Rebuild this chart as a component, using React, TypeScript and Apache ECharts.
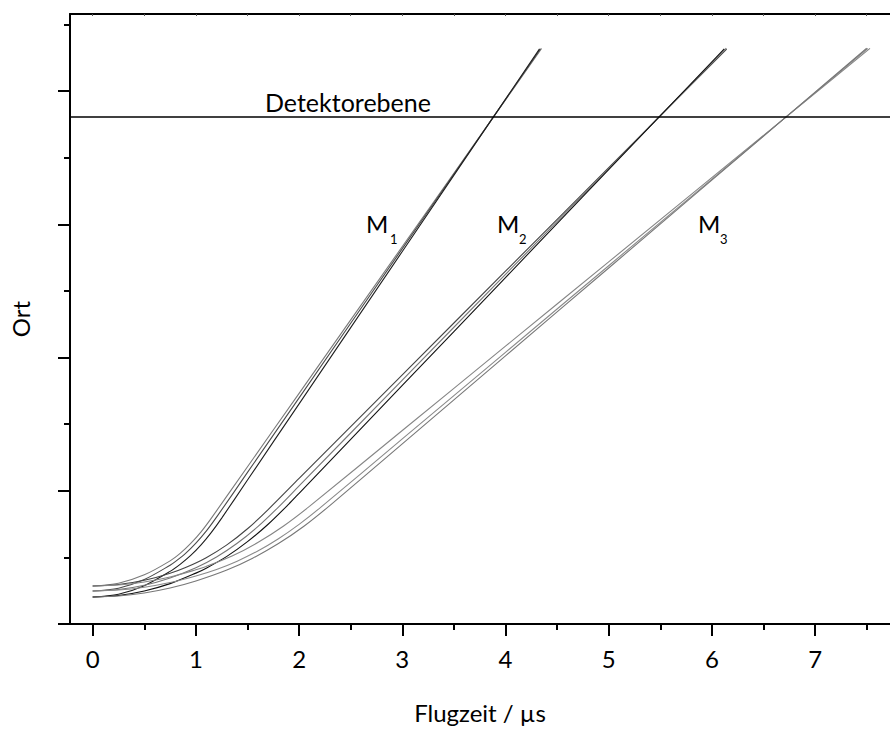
import React, { useEffect, useRef } from "react";
import * as echarts from "echarts";

const xTickValues = [0, 1, 2, 3, 4, 5, 6, 7];
const xMinorTickValues = [0.5, 1.5, 2.5, 3.5, 4.5, 5.5, 6.5, 7.5];
const xTopTickValues = [0, 0.5, 1, 1.5, 2, 2.5, 3, 3.5, 4, 4.5, 5, 5.5, 6, 6.5, 7, 7.5];
const yTickValues = [0, 1, 2, 3, 4];
const yMinorTickValues = [0.5, 1.5, 2.5, 3.5, 4.5];
const detectorLevel = 3.81;

const m1a = [[0, 0.285], [0.25, 0.306], [0.5, 0.369], [0.75, 0.474], [0.85, 0.532], [0.95, 0.605], [1.05, 0.692], [1.15, 0.795], [1.5, 1.181], [2, 1.732], [3, 2.834], [3.877, 3.8], [4.35, 4.321]];
const m1b = [[0, 0.248], [0.25, 0.269], [0.5, 0.334], [0.75, 0.441], [0.8, 0.468], [0.9, 0.53], [1.0, 0.607], [1.1, 0.697], [1.2, 0.802], [1.5, 1.138], [2, 1.698], [3, 2.818], [3.877, 3.8], [4.34, 4.319]];
const m1c = [[0, 0.203], [0.25, 0.224], [0.5, 0.288], [0.75, 0.395], [0.85, 0.45], [0.95, 0.515], [1.05, 0.594], [1.15, 0.688], [1.25, 0.795], [1.5, 1.081], [2, 1.653], [3, 2.797], [3.877, 3.8], [4.33, 4.318]];

const m2a = [[0, 0.285], [0.25, 0.296], [0.5, 0.328], [0.75, 0.381], [0.9, 0.424], [1.1, 0.498], [1.3, 0.594], [1.5, 0.715], [1.7, 0.859], [2, 1.093], [3, 1.871], [4, 2.649], [5.48, 3.8], [6.143, 4.316]];
const m2b = [[0, 0.248], [0.25, 0.259], [0.5, 0.291], [0.75, 0.346], [1.0, 0.422], [1.2, 0.503], [1.4, 0.606], [1.6, 0.731], [1.8, 0.878], [2, 1.037], [3, 1.831], [4, 2.625], [5.48, 3.8], [6.14, 4.324]];
const m2c = [[0, 0.203], [0.25, 0.214], [0.5, 0.248], [0.75, 0.303], [1.0, 0.382], [1.1, 0.419], [1.3, 0.508], [1.5, 0.618], [1.7, 0.749], [1.9, 0.9], [2, 0.981], [3, 1.791], [4, 2.601], [5.48, 3.8], [6.12, 4.318]];

const m3a = [[0, 0.285], [0.25, 0.293], [0.5, 0.315], [0.75, 0.353], [1.0, 0.407], [1.1, 0.432], [1.35, 0.51], [1.6, 0.612], [1.85, 0.736], [2.1, 0.883], [3, 1.453], [4, 2.086], [5, 2.719], [6.708, 3.8], [7.532, 4.322]];
const m3b = [[0, 0.248], [0.25, 0.255], [0.5, 0.276], [0.75, 0.311], [1.0, 0.361], [1.2, 0.41], [1.4, 0.472], [1.6, 0.548], [1.8, 0.64], [2.0, 0.748], [2.2, 0.87], [3, 1.39], [4, 2.04], [5, 2.69], [6.708, 3.8], [7.51, 4.321]];
const m3c = [[0, 0.203], [0.25, 0.21], [0.5, 0.233], [0.75, 0.27], [1.0, 0.323], [1.3, 0.405], [1.55, 0.494], [1.8, 0.604], [2.05, 0.736], [2.3, 0.891], [3, 1.353], [4, 2.013], [5, 2.673], [6.708, 3.8], [7.5, 4.323]];

const curves = [
  { name: "M1a", data: m1a, color: "#7a7a7a" },
  { name: "M1b", data: m1b, color: "#4a4a4a" },
  { name: "M1c", data: m1c, color: "#1e1e1e" },
  { name: "M2a", data: m2a, color: "#444444" },
  { name: "M2b", data: m2b, color: "#777777" },
  { name: "M2c", data: m2c, color: "#111111" },
  { name: "M3a", data: m3a, color: "#858585" },
  { name: "M3b", data: m3b, color: "#8a8a8a" },
  { name: "M3c", data: m3c, color: "#777777" },
];

const FONT = "Lato, 'Open Sans', sans-serif";

export default function App() {
  const ref = useRef<HTMLDivElement>(null);
  useEffect(() => {
    if (!ref.current) return;
    const chart = echarts.init(ref.current, null, { renderer: "svg" });
    const xMin = -0.22;
    const xMax = 7.726;
    const yMin = 0;
    const yMax = 4.58;
    const baseX = { type: "value", min: xMin, max: xMax, splitLine: { show: false } };
    const baseY = { type: "value", min: yMin, max: yMax, splitLine: { show: false } };
    const series: any[] = curves.map((c, i) => ({
      name: c.name,
      type: "line",
      data: c.data,
      smooth: 0.3,
      showSymbol: false,
      symbol: "none",
      lineStyle: { color: c.color, width: 1.1 },
      silent: true,
      z: 2,
      markLine:
        i === 0
          ? {
              silent: true,
              symbol: "none",
              label: { show: false },
              lineStyle: { color: "#000", width: 1.6, type: "solid" },
              data: [{ yAxis: detectorLevel }],
            }
          : undefined,
    }));
    const labelStyle = (text: string, size: number) => ({
      text,
      fontSize: size,
      fontFamily: FONT,
      fill: "#000",
      align: "left",
      verticalAlign: "middle",
    });
    chart.setOption({
      animation: false,
      backgroundColor: "#fff",
      grid: { left: 70, right: 0, top: 14, bottom: 107, containLabel: false },
      xAxis: [
        {
          ...baseX,
          position: "bottom",
          name: "Flugzeit / µs",
          nameLocation: "middle",
          nameGap: 76,
          nameTextStyle: { fontSize: 24, fontFamily: FONT, color: "#000" },
          axisLine: { show: true, onZero: false, lineStyle: { color: "#000", width: 2 } },
          axisTick: { show: true, inside: false, length: 12, customValues: xTickValues, lineStyle: { color: "#000", width: 2 } },
          axisLabel: { show: true, customValues: xTickValues, margin: 22, fontSize: 24, fontFamily: FONT, color: "#000" },
        },
        {
          ...baseX,
          position: "bottom",
          axisLine: { show: false, onZero: false },
          axisTick: { show: true, inside: false, length: 6, customValues: xMinorTickValues, lineStyle: { color: "#000", width: 2 } },
          axisLabel: { show: false },
        },
        {
          ...baseX,
          position: "top",
          axisLine: { show: true, onZero: false, lineStyle: { color: "#000", width: 2 } },
          axisTick: { show: true, inside: true, length: 2, customValues: xTopTickValues, lineStyle: { color: "#555", width: 1 } },
          axisLabel: { show: false },
        },
      ],
      yAxis: [
        {
          ...baseY,
          position: "left",
          name: "Ort",
          nameLocation: "middle",
          nameGap: 38,
          nameTextStyle: { fontSize: 24, fontFamily: FONT, color: "#000" },
          axisLine: { show: true, onZero: false, lineStyle: { color: "#000", width: 2 } },
          axisTick: { show: true, inside: false, length: 12, customValues: yTickValues, lineStyle: { color: "#000", width: 2 } },
          axisLabel: { show: false },
        },
        {
          ...baseY,
          position: "left",
          axisLine: { show: false, onZero: false },
          axisTick: { show: true, inside: false, length: 6, customValues: yMinorTickValues, lineStyle: { color: "#000", width: 2 } },
          axisLabel: { show: false },
        },
      ],
      graphic: [
        { type: "text", x: 265, y: 101.5, silent: true, style: labelStyle("Detektorebene", 25) },
        { type: "text", x: 366, y: 223.5, silent: true, style: labelStyle("M", 24) },
        { type: "text", x: 390, y: 238.5, silent: true, style: labelStyle("1", 13) },
        { type: "text", x: 497, y: 223.5, silent: true, style: labelStyle("M", 24) },
        { type: "text", x: 519, y: 238.5, silent: true, style: labelStyle("2", 13) },
        { type: "text", x: 698, y: 223.5, silent: true, style: labelStyle("M", 24) },
        { type: "text", x: 720, y: 238.5, silent: true, style: labelStyle("3", 13) },
      ],
      series,
    });
    return () => chart.dispose();
  }, []);
  return (
    <div
      ref={ref}
      style={{ position: "fixed", left: 0, top: 0, width: 890, height: 731, background: "#fff" }}
    />
  );
}
